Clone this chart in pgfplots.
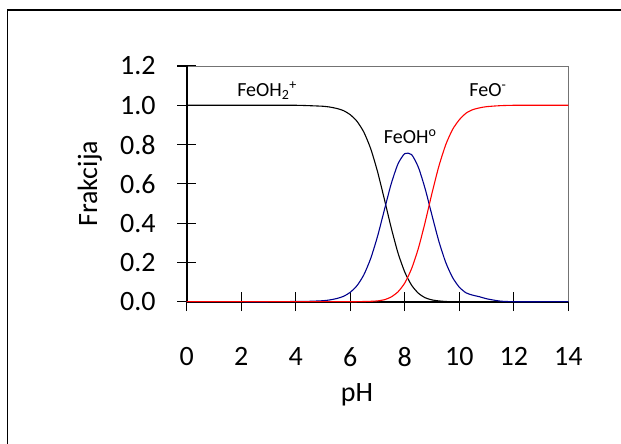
\documentclass[border=0pt]{standalone}
\usepackage{pgfplots}
\usepackage{pgfplotstable}
\pgfplotsset{compat=1.18}
\usepackage{fontspec}
\setmainfont{Carlito}
\definecolor{feblue}{RGB}{0,0,140}
\definecolor{fered}{RGB}{255,0,0}

% fractions of the three species vs pH
\pgfplotstableread{
ph    black  blue   red
0     1.000  0.000  0.000
1     1.000  0.000  0.000
2     1.000  0.000  0.000
3     1.000  0.000  0.000
4     1.000  0.001  0.000
4.5   0.998  0.002  0.000
5     0.995  0.005  0.000
5.25  0.991  0.009  0.000
5.5   0.984  0.016  0.000
5.75  0.973  0.027  0.000
6     0.952  0.048  0.000
6.25  0.918  0.082  0.000
6.5   0.863  0.137  0.001
6.75  0.779  0.220  0.002
7     0.663  0.332  0.004
7.25  0.523  0.466  0.010
7.5   0.378  0.599  0.024
7.75  0.249  0.701  0.050
8     0.151  0.754  0.095
8.25  0.084  0.749  0.168
8.5   0.043  0.684  0.272
8.75  0.020  0.574  0.406
9     0.009  0.439  0.553
9.25  0.004  0.308  0.689
9.5   0.001  0.201  0.798
9.75  0.000  0.124  0.876
10    0.000  0.074  0.926
10.25 0.000  0.045  0.960
10.5  0.000  0.033  0.978
10.75 0.000  0.025  0.987
11    0.000  0.015  0.993
11.5  0.000  0.003  0.998
12    0.000  0.000  1.000
13    0.000  0.000  1.000
14    0.000  0.000  1.000
}\fractions

\begin{document}
\begin{tikzpicture}
\useasboundingbox (0,0) rectangle (621pt,444pt);
\draw[line width=1.2pt] (7.3pt,-30pt) -- (7.3pt,434pt) -- (700pt,434pt);
\begin{axis}[
  at={(186.7pt,142.3pt)}, anchor=south west,
  scale only axis, width=381.6pt, height=235.7pt,
  xmin=0, xmax=14, ymin=0, ymax=1.2,
  xtick={0,2,...,14}, ytick={0,0.2,0.4,0.6,0.8,1.0,1.2},
  xtick pos=bottom, ytick pos=left,
  tick align=center, major tick length=19pt,
  tick style={black, line width=1.2pt},
  axis line style={black!55, line width=0.8pt},
  /pgf/number format/assume math mode=true,
  yticklabel style={/pgf/number format/fixed, /pgf/number format/fixed zerofill, /pgf/number format/precision=1, xshift=-18pt},
  tick label style={font=\fontsize{28}{32}\selectfont},
  xticklabel style={yshift=-33pt},
  xlabel={pH}, ylabel={Frakcija},
  label style={font=\fontsize{28}{32}\selectfont},
  xlabel style={at={(rel axis cs:0.446,0)}, anchor=center, yshift=-93pt},
  ylabel style={at={(rel axis cs:0,0.5)}, anchor=center, yshift=97pt},
  clip=false,
  every axis plot/.append style={line width=1.1pt},
]
\draw[black, line width=2pt] (rel axis cs:0,1) -- (rel axis cs:0,0) -- (rel axis cs:1,0);
\addplot[black, smooth, tension=0.4] table[x=ph, y=black] {\fractions};
\addplot[feblue, smooth, tension=0.4] table[x=ph, y=blue] {\fractions};
\addplot[fered, smooth, tension=0.4] table[x=ph, y=red] {\fractions};
\node[font=\fontsize{20}{24}\selectfont] at (axis cs:2.95,1.075) {FeOH\textsubscript{2}\textsuperscript{+}};
\node[font=\fontsize{20}{24}\selectfont] at (axis cs:8.2,0.84) {FeOH\textsuperscript{o}};
\node[font=\fontsize{20}{24}\selectfont] at (axis cs:11.05,1.075) {FeO\textsuperscript{-}};
\end{axis}
\end{tikzpicture}
\end{document}
